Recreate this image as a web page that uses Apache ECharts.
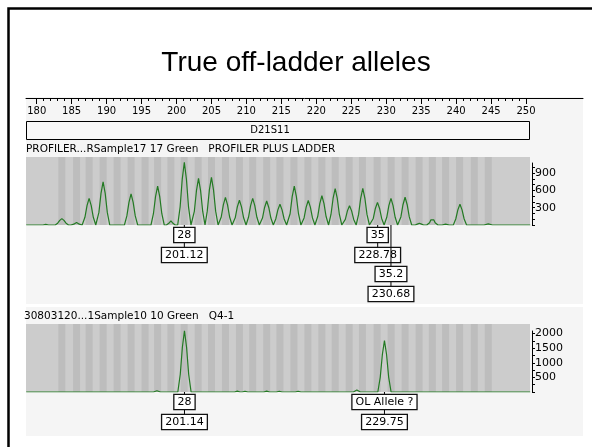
<!DOCTYPE html>
<html><head><meta charset="utf-8">
<script src="https://cdn.jsdelivr.net/npm/echarts@6/dist/echarts.min.js"></script>
<style>html,body{margin:0;padding:0;background:#fff}#c{width:592px;height:447px}</style>
</head><body><div id="c"></div>
<script>
// ---------------- data ----------------
const titleText = 'True off-ladder alleles';
const markerName = 'D21S11';
const ladderLabel = 'PROFILER...RSample17 17 Green   PROFILER PLUS LADDER';
const sampleLabel = '30803120...1Sample10 10 Green   Q4-1';

const rulerMajor = [180,185,190,195,200,205,210,215,220,225,230,235,240,245,250];
const rulerMinor = [180,181,182,183,184,185,186,187,188,189,190,191,192,193,194,195,196,197,198,199,200,201,202,203,204,205,206,207,208,209,210,211,212,213,214,215,216,217,218,219,220,221,222,223,224,225,226,227,228,229,230,231,232,233,234,235,236,237,238,239,240,241,242,243,244,245,246,247,248,249,250];

const ladderAxisLabels = [300,600,900];
const ladderAxisTicks = [0,100,200,300,400,500,600,700,800,900,1000];
const sampleAxisLabels = [500,1000,1500,2000];
const sampleAxisTicks = [0,250,500,750,1000,1250,1500,1750,2000];

// ladder trace: [size (bp), RFU]
const ladderTrace = [
 [178.5,0],[180.9,0],[181.3,12],[181.7,0],
 [182.65,0],[183.0,32],[183.3,80],[183.6,110],[183.9,80],[184.2,32],[184.55,0],
 [184.9,0],[185.3,15],[185.7,45],[186.1,15],[186.5,0],
 [186.55,0],[186.9,134],[187.2,337],[187.5,462],[187.8,337],[188.1,134],[188.45,0],
 [188.55,0],[188.9,218],[189.2,548],[189.5,750],[189.8,548],[190.1,218],[190.45,0],
 [192.55,0],[192.9,157],[193.2,394],[193.5,540],[193.8,394],[194.1,157],[194.45,0],
 [196.35,0],[196.7,196],[197.0,493],[197.3,676],[197.6,493],[197.9,196],[198.25,0],
 [198.55,0],[198.9,30],[199.2,72],[199.5,30],[199.8,0],
 [200.17,0],[200.52,315],[200.82,794],[201.12,1087],[201.42,794],[201.72,315],[202.07,0],
 [202.2,0],[202.55,235],[202.85,591],[203.15,810],[203.45,591],[203.75,235],[204.08,0],
 [204.4,240],[204.7,604],[205.0,827],[205.3,604],[205.6,240],[205.95,0],
 [206.05,0],[206.4,139],[206.7,350],[207.0,480],[207.3,350],[207.6,139],[207.95,0],
 [208.05,0],[208.4,125],[208.7,314],[209.0,430],[209.3,314],[209.6,125],[209.95,0],
 [210.3,134],[210.6,337],[210.9,462],[211.2,337],[211.5,134],[211.85,0],
 [211.95,0],[212.3,121],[212.6,304],[212.9,416],[213.2,304],[213.5,121],[213.85,0],
 [214.2,104],[214.5,262],[214.8,359],[215.1,262],[215.4,104],[215.75,0],
 [215.9,0],[216.25,196],[216.55,493],[216.85,676],[217.15,493],[217.45,196],[217.8,0],
 [217.9,0],[218.25,123],[218.55,310],[218.85,425],[219.15,310],[219.45,123],[219.8,0],
 [219.85,0],[220.2,147],[220.5,371],[220.8,508],[221.1,371],[221.4,147],[221.75,0],
 [222.1,183],[222.4,460],[222.7,630],[223.0,460],[223.3,183],[223.65,0],
 [223.8,0],[224.15,97],[224.45,245],[224.75,335],[225.05,245],[225.35,97],[225.7,0],
 [226.05,184],[226.35,464],[226.65,636],[226.95,464],[227.25,184],[227.6,0],
 [227.8,0],[228.15,114],[228.45,287],[228.75,393],[229.05,287],[229.35,114],[229.7,0],
 [229.72,0],[230.08,134],[230.38,337],[230.68,462],[230.98,337],[231.28,134],[231.63,0],
 [231.75,0],[232.1,140],[232.4,352],[232.7,482],[233.0,352],[233.3,140],[233.65,0],
 [234.15,0],[234.45,15],[234.75,30],[235.05,15],[235.35,0],
 [235.8,0],[236.2,40],[236.4,90],[236.6,116],[236.8,90],[237.0,40],[237.4,0],
 [238.0,0],[238.5,15],[239.0,0],
 [239.6,0],[239.95,104],[240.25,262],[240.55,359],[240.85,262],[241.15,104],[241.5,0],
 [244.0,0],[244.6,20],[245.2,0],
 [250.6,0]
];

// sample trace: [size (bp), RFU]
const sampleTrace = [
 [178.5,0],[196.7,0],[197.2,45],[197.7,0],
 [200.19,0],[200.54,609],[200.84,1533],[201.14,2100],[201.44,1533],[201.74,609],[202.09,0],
 [208.3,0],[208.7,30],[209.1,0],[209.4,0],[209.8,25],[210.2,0],
 [212.5,0],[212.9,30],[213.3,0],[214.3,0],[214.7,25],[215.1,0],
 [217.0,0],[217.4,25],[217.8,0],
 [225.3,0],[225.8,70],[226.3,0],
 [228.8,0],[229.15,510],[229.45,1285],[229.75,1760],[230.05,1285],[230.35,510],[230.7,0],
 [250.6,0]
];

// allele bins: [start bp, end bp]
const bins = [
 [183.1,184.1],[185.2,186.2],[187.0,188.0],[189.0,190.0],[191.0,192.0],[193.0,194.0],
 [195.0,196.0],[196.8,197.8],[198.7,199.7],[200.6,201.6],[202.6,203.6],[204.5,205.5],
 [206.5,207.5],[208.5,209.5],[210.4,211.4],[212.4,213.4],[214.3,215.3],[216.3,217.3],
 [218.3,219.3],[220.3,221.3],[222.2,223.2],[224.2,225.2],[226.1,227.1],[228.2,229.2],
 [230.2,231.2],[232.2,233.2],[234.2,235.2],[236.1,237.1],[238.0,239.0],[240.0,241.0],
 [242.1,243.1],[244.1,245.1]
];

// allele calls: [size, row]
const ladderCallSizes = [[201.12,0],[228.78,0],[230.68,1]];
const ladderCallAlleles = ['28','35','35.2'];
const ladderCallTexts = ['201.12','228.78','230.68'];
const sampleCallSizes = [[201.14,0],[229.75,0]];
const sampleCallAlleles = ['28','OL Allele ?'];
const sampleCallTexts = ['201.14','229.75'];

// ---------------- chart ----------------
const X_MIN = 178.47, X_MAX = 250.57, RULER_MAX = 258.15;
const LADDER_MAX = 1180, SAMPLE_MAX = 2330;
const SMALL_FONT = 'DejaVu Sans';
const TRACE_COLOR = '#237a23';

function binRender(params, api) {
  const cs = params.coordSys;
  const a = api.coord([api.value(0), 0])[0];
  const b = api.coord([api.value(1), 0])[0];
  return {type:'rect', shape:{x:a, y:cs.y, width:b-a, height:cs.height}, style:{fill:'#bdbdbd'}};
}
function box(text, x, y) {
  return {type:'text', x:x, y:y, style:{text:text, align:'center', verticalAlign:'top',
    font:'11px "DejaVu Sans"', fill:'#000', backgroundColor:'#fff', borderColor:'#111',
    borderWidth:1.3, padding:[2,3,1,3]}};
}
function callRender(alleles, texts) {
  return function(params, api) {
    const i = params.dataIndex;
    const p = api.coord([api.value(0), 0]);
    const off = api.value(1) * 39;
    return {type:'group', children:[
      {type:'line', shape:{x1:p[0], y1:p[1], x2:p[0], y2:p[1]+off+23}, style:{stroke:'#000', lineWidth:1}},
      box(alleles[i], p[0], p[1]+3+off),
      box(texts[i], p[0], p[1]+23+off)
    ]};
  };
}
function hiddenX(gi, max) { return {type:'value', gridIndex:gi, min:X_MIN, max:max||X_MAX, show:false}; }
const plainNum = function (v) { return String(v); };

const chart = echarts.init(document.getElementById('c'));
chart.setOption({
  animation:false,
  backgroundColor:'#fff',
  title:{text:titleText, left:'center', top:44,
    textStyle:{fontFamily:'Liberation Sans', fontSize:28, fontWeight:'normal', color:'#000'}},
  graphic:[
    {type:'rect', z:-10, shape:{x:26, y:97, width:557, height:207}, style:{fill:'#f5f5f5'}},
    {type:'rect', z:-10, shape:{x:26, y:307, width:557, height:129}, style:{fill:'#f5f5f5'}},
    {type:'rect', z:-5, shape:{x:8.5, y:8.5, width:700, height:700}, style:{fill:'none', stroke:'#000', lineWidth:2.5}},
    {type:'rect', z:5, shape:{x:26.5, y:121.5, width:503, height:18}, style:{fill:'#f8f8f8', stroke:'#000', lineWidth:1}},
    {type:'text', z:6, x:270, y:130, style:{text:markerName, align:'center', verticalAlign:'middle', font:'10px "DejaVu Sans"', fill:'#000'}},
    {type:'text', z:6, x:26, y:149, style:{text:ladderLabel, align:'left', verticalAlign:'middle', font:'10.5px "DejaVu Sans"', fill:'#000'}},
    {type:'text', z:6, x:24, y:316, style:{text:sampleLabel, align:'left', verticalAlign:'middle', font:'10.5px "DejaVu Sans"', fill:'#000'}}
  ],
  grid:[
    {left:26, top:98, width:557, height:1},
    {left:26, top:157, width:504, height:68, show:true, backgroundColor:'#cccccc', borderWidth:0},
    {left:26, top:163, width:506, height:62},
    {left:26, top:324, width:504, height:68, show:true, backgroundColor:'#cccccc', borderWidth:0},
    {left:26, top:331, width:506, height:61}
  ],
  xAxis:[
    {type:'value', gridIndex:0, min:X_MIN, max:RULER_MAX, position:'top',
      axisLine:{show:true, onZero:false, lineStyle:{color:'#000', width:1}},
      axisTick:{show:true, inside:true, length:6, customValues:rulerMajor, lineStyle:{color:'#000'}},
      axisLabel:{show:true, inside:true, margin:8, customValues:rulerMajor, color:'#000', fontFamily:SMALL_FONT, fontSize:10},
      splitLine:{show:false}},
    {type:'value', gridIndex:0, min:X_MIN, max:RULER_MAX, position:'top',
      axisLine:{show:false, onZero:false},
      axisTick:{show:true, inside:true, length:3, customValues:rulerMinor, lineStyle:{color:'#000'}},
      axisLabel:{show:false}, splitLine:{show:false}},
    hiddenX(1), hiddenX(2), hiddenX(3), hiddenX(4)
  ],
  yAxis:[
    {type:'value', gridIndex:0, show:false},
    {type:'value', gridIndex:1, min:0, max:LADDER_MAX, show:false},
    {type:'value', gridIndex:2, min:0, max:LADDER_MAX*62/68, position:'right',
      axisLine:{show:true, onZero:false, lineStyle:{color:'#000'}},
      axisTick:{show:true, length:3, customValues:ladderAxisTicks, lineStyle:{color:'#000'}},
      axisLabel:{show:true, margin:3, customValues:ladderAxisLabels, formatter:plainNum, color:'#000', fontFamily:SMALL_FONT, fontSize:11},
      splitLine:{show:false}},
    {type:'value', gridIndex:3, min:0, max:SAMPLE_MAX, show:false},
    {type:'value', gridIndex:4, min:0, max:SAMPLE_MAX*61/68, position:'right',
      axisLine:{show:true, onZero:false, lineStyle:{color:'#000'}},
      axisTick:{show:true, length:3, customValues:sampleAxisTicks, lineStyle:{color:'#000'}},
      axisLabel:{show:true, margin:3, customValues:sampleAxisLabels, formatter:plainNum, color:'#000', fontFamily:SMALL_FONT, fontSize:11},
      splitLine:{show:false}}
  ],
  series:[
    {type:'custom', xAxisIndex:2, yAxisIndex:1, z:1, data:bins, renderItem:binRender, silent:true},
    {type:'line', xAxisIndex:2, yAxisIndex:1, z:2, data:ladderTrace, showSymbol:false, symbol:'none',
      lineStyle:{color:TRACE_COLOR, width:1.2}},
    {type:'custom', xAxisIndex:2, yAxisIndex:1, z:3, clip:false, data:ladderCallSizes,
      renderItem:callRender(ladderCallAlleles, ladderCallTexts)},
    {type:'custom', xAxisIndex:4, yAxisIndex:3, z:1, data:bins, renderItem:binRender, silent:true},
    {type:'line', xAxisIndex:4, yAxisIndex:3, z:2, data:sampleTrace, showSymbol:false, symbol:'none',
      lineStyle:{color:TRACE_COLOR, width:1.2}},
    {type:'custom', xAxisIndex:4, yAxisIndex:3, z:3, clip:false, data:sampleCallSizes,
      renderItem:callRender(sampleCallAlleles, sampleCallTexts)}
  ]
});
</script></body></html>
